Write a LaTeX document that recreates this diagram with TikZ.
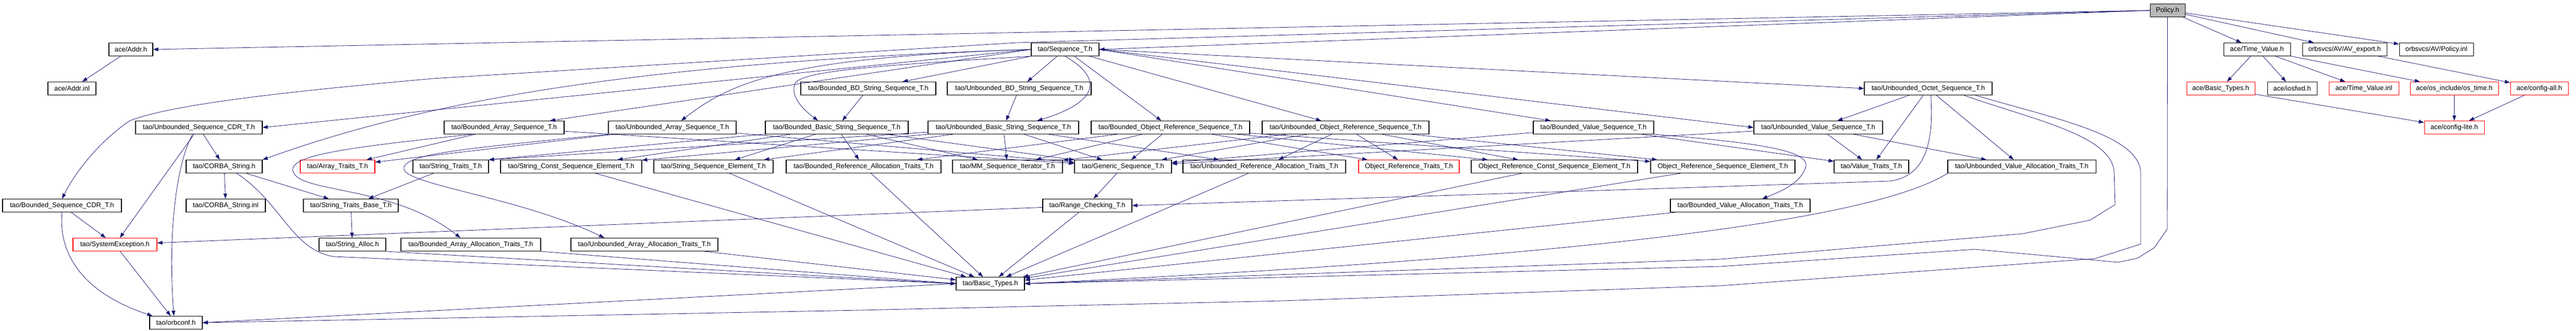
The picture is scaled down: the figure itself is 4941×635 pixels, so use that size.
\documentclass[tikz,border=0pt]{standalone}
\usepackage{fontspec}
\setmainfont{Liberation Sans}
\usetikzlibrary{arrows.meta}
\definecolor{edgeblue}{RGB}{25,25,112}
\begin{document}
\begin{tikzpicture}[x=1pt,y=-1pt,
  box/.style={draw=black, line width=1.1pt, fill=white, minimum height=25pt, inner sep=1pt, font=\fontsize{13}{15}\selectfont},
  redbox/.style={box, draw=red},
  dep/.style={draw=edgeblue, line width=0.8pt, -{Triangle[length=10pt,width=7pt]}}]
\useasboundingbox (0,0) rectangle (4941,635);

\node [box, minimum width=67pt, fill=gray!55] (policy) at (4157.5,20) {Policy.h};

\node [box, minimum width=84pt] (addr) at (251,95) {ace/Addr.h};
\node [box, minimum width=130pt] (seqt) at (2043,95) {tao/Sequence\_T.h};
\node [box, minimum width=128pt] (timev) at (4329,95) {ace/Time\_Value.h};
\node [box, minimum width=162pt] (avexp) at (4497,95) {orbsvcs/AV/AV\_export.h};
\node [box, minimum width=142pt] (polinl) at (4673,95) {orbsvcs/AV/Policy.inl};

\node [box, minimum width=92pt] (addrinl) at (138,170) {ace/Addr.inl};
\node [box, minimum width=259pt] (bbdstr) at (1665.5,170) {tao/Bounded\_BD\_String\_Sequence\_T.h};
\node [box, minimum width=276pt] (ubdstr) at (1955,170) {tao/Unbounded\_BD\_String\_Sequence\_T.h};
\node [box, minimum width=245pt] (octet) at (3698.5,170) {tao/Unbounded\_Octet\_Sequence\_T.h};
\node [redbox, minimum width=131pt] (acebt) at (4259.5,170) {ace/Basic\_Types.h};
\node [box, minimum width=95pt] (iosfwd) at (4396.5,170) {ace/iosfwd.h};
\node [redbox, minimum width=134pt] (tvinl) at (4534,170) {ace/Time\_Value.inl};
\node [redbox, minimum width=169pt] (ostime) at (4707.5,170) {ace/os\_include/os\_time.h};
\node [redbox, minimum width=111pt] (cfgall) at (4870.5,170) {ace/config-all.h};

\node [box, minimum width=243pt] (useqcdr) at (381.5,245) {tao/Unbounded\_Sequence\_CDR\_T.h};
\node [box, minimum width=230pt] (barrseq) at (967,245) {tao/Bounded\_Array\_Sequence\_T.h};
\node [box, minimum width=245pt] (uarrseq) at (1289.5,245) {tao/Unbounded\_Array\_Sequence\_T.h};
\node [box, minimum width=274pt] (bbstr) at (1605,245) {tao/Bounded\_Basic\_String\_Sequence\_T.h};
\node [box, minimum width=289pt] (ubstr) at (1924.5,245) {tao/Unbounded\_Basic\_String\_Sequence\_T.h};
\node [box, minimum width=304pt] (bobjref) at (2245,245) {tao/Bounded\_Object\_Reference\_Sequence\_T.h};
\node [box, minimum width=320pt] (uobjref) at (2581,245) {tao/Unbounded\_Object\_Reference\_Sequence\_T.h};
\node [box, minimum width=231pt] (bvalseq) at (3056.5,245) {tao/Bounded\_Value\_Sequence\_T.h};
\node [box, minimum width=247pt] (uvalseq) at (3487.5,245) {tao/Unbounded\_Value\_Sequence\_T.h};
\node [redbox, minimum width=115pt] (cfglite) at (4707.5,245) {ace/config-lite.h};

\node [box, minimum width=146pt] (corbastr) at (430,320) {tao/CORBA\_String.h};
\node [redbox, minimum width=143pt] (arrtr) at (647.5,320) {tao/Array\_Traits\_T.h};
\node [box, minimum width=145pt] (strtr) at (864.5,320) {tao/String\_Traits\_T.h};
\node [box, minimum width=271pt] (strcse) at (1095.5,320) {tao/String\_Const\_Sequence\_Element\_T.h};
\node [box, minimum width=229pt] (strse) at (1368.5,320) {tao/String\_Sequence\_Element\_T.h};
\node [box, minimum width=297pt] (brefalloc) at (1656.5,320) {tao/Bounded\_Reference\_Allocation\_Traits\_T.h};
\node [box, minimum width=211pt] (mmiter) at (1932.5,320) {tao/MM\_Sequence\_Iterator\_T.h};
\node [box, minimum width=186pt] (genseq) at (2154,320) {tao/Generic\_Sequence\_T.h};
\node [box, minimum width=312pt] (urefalloc) at (2425,320) {tao/Unbounded\_Reference\_Allocation\_Traits\_T.h};
\node [redbox, minimum width=193pt] (objreftr) at (2702.5,320) {Object\_Reference\_Traits\_T.h};
\node [box, minimum width=319pt] (orcse) at (2981.5,320) {Object\_Reference\_Const\_Sequence\_Element\_T.h};
\node [box, minimum width=277pt] (orse) at (3304.5,320) {Object\_Reference\_Sequence\_Element\_T.h};
\node [box, minimum width=143pt] (valtr) at (3589.5,320) {tao/Value\_Traits\_T.h};
\node [box, minimum width=284pt] (uvalalloc) at (3878,320) {tao/Unbounded\_Value\_Allocation\_Traits\_T.h};

\node [box, minimum width=228pt] (bseqcdr) at (119,395) {tao/Bounded\_Sequence\_CDR\_T.h};
\node [box, minimum width=152pt] (corbainl) at (433,395) {tao/CORBA\_String.inl};
\node [box, minimum width=182pt] (strbase) at (673,395) {tao/String\_Traits\_Base\_T.h};
\node [box, minimum width=171pt] (rangechk) at (2085.5,395) {tao/Range\_Checking\_T.h};
\node [box, minimum width=268pt] (bvalalloc) at (3338,395) {tao/Bounded\_Value\_Allocation\_Traits\_T.h};

\node [redbox, minimum width=161pt] (sysexc) at (220.5,470) {tao/SystemException.h};
\node [box, minimum width=128pt] (stralloc) at (676,470) {tao/String\_Alloc.h};
\node [box, minimum width=268pt] (barralloc) at (903,470) {tao/Bounded\_Array\_Allocation\_Traits\_T.h};
\node [box, minimum width=282pt] (uarralloc) at (1236,470) {tao/Unbounded\_Array\_Allocation\_Traits\_T.h};

\node [box, minimum width=131pt] (taobt) at (1899.5,545) {tao/Basic\_Types.h};
\node [box, minimum width=101pt] (orbconf) at (337.5,620) {tao/orbconf.h};

\draw [dep] (policy.west) -- (addr.east);
\draw [dep] (policy.west) -- (seqt.east);
\draw [dep] (policy.west) -- (1950,82) -- (830,151) .. controls (560,175) and (330,200) .. (249,232) .. controls (200,265) and (150,320) .. (bseqcdr.north);
\draw [dep] (policy) -- (timev);
\draw [dep] (policy) -- (avexp);
\draw [dep] (policy) -- (polinl);
\draw [dep] (policy.south) -- (4157,440) -- (4132,476) -- (4100,496) -- (4063,504) -- (3788,479) -- (3300,512) -- (taobt.east);

\draw [dep] (addr) -- (addrinl);
\draw [dep] (timev) -- (acebt);
\draw [dep] (timev) -- (iosfwd);
\draw [dep] (timev) -- (tvinl);
\draw [dep] (timev) -- (ostime);
\draw [dep] (avexp) -- (cfgall);
\draw [dep] (acebt) -- (cfglite);
\draw [dep] (ostime) -- (cfglite);
\draw [dep] (cfgall) -- (cfglite);

\draw [dep] (seqt.west) -- (useqcdr.east);
\draw [dep] (seqt.west) .. controls (1200,120) and (800,200) .. (corbastr.north east);
\draw [dep] (seqt.west) -- (barrseq);
\draw [dep] (seqt.west) .. controls (1500,110) and (1400,160) .. (uarrseq);
\draw [dep] (seqt.south west) .. controls (1700,125) and (1540,135) .. (1525,160) .. controls (1515,185) and (1540,210) .. ([xshift=-36pt]bbstr.north);
\draw [dep] (seqt) -- (bbdstr);
\draw [dep] (seqt) -- (ubdstr);
\draw [dep] (seqt.south) .. controls (2115,150) and (2110,195) .. ([xshift=65pt]ubstr.north);
\draw [dep] (seqt) -- (bobjref);
\draw [dep] (seqt) -- (uobjref);
\draw [dep] (seqt.east) -- (bvalseq);
\draw [dep] (seqt.east) -- (uvalseq.west);
\draw [dep] (seqt.east) -- (octet.west);

\draw [dep] (bbdstr) -- (bbstr);
\draw [dep] (ubdstr) -- (ubstr);

\draw [dep] (useqcdr) -- (corbastr);
\draw [dep] (useqcdr) -- (sysexc);
\draw [dep] ([xshift=-12pt]useqcdr.south) .. controls (345,300) and (320,420) .. ([xshift=-4pt]orbconf.north);
\draw [dep] (bseqcdr) -- (sysexc);
\draw [dep] (bseqcdr.south) .. controls (112,480) and (150,560) .. ([xshift=-45pt]orbconf.north);
\draw [dep] (sysexc) -- (orbconf);

\draw [dep] (corbastr) -- (corbainl);
\draw [dep] (corbastr) -- (strbase);
\draw [dep] ([xshift=24pt]corbastr.south) .. controls (540,390) and (560,480) .. (640,493) -- (taobt.west);
\draw [dep] (strtr) -- (strbase);
\draw [dep] (strbase) -- (stralloc);
\draw [dep] (stralloc.south east) -- (taobt.west);

\draw [dep] (barrseq) -- (arrtr);
\draw [dep] (barrseq) -- (genseq);
\draw [dep] ([xshift=-62pt]barrseq.south) .. controls (650,285) and (540,300) .. (565,335) .. controls (590,370) and (760,360) .. ([xshift=-20pt]barralloc.north);
\draw [dep] (uarrseq) -- (arrtr);
\draw [dep] (uarrseq) -- (genseq);
\draw [dep] (uarrseq.south west) .. controls (900,285) and (770,295) .. (775,325) .. controls (780,355) and (1000,380) .. ([xshift=-77pt]uarralloc.north);

\draw [dep] (bbstr) -- (strtr.north east);
\draw [dep] (bbstr) -- (strcse);
\draw [dep] (bbstr) -- (strse);
\draw [dep] (bbstr) -- (brefalloc);
\draw [dep] (bbstr) -- (mmiter);
\draw [dep] (bbstr) -- (genseq);
\draw [dep] (ubstr) -- (strtr.north east);
\draw [dep] (ubstr) -- (strcse);
\draw [dep] (ubstr) -- (strse);
\draw [dep] (ubstr) -- (urefalloc);
\draw [dep] (ubstr) -- (mmiter);
\draw [dep] (ubstr) -- (genseq);

\draw [dep] (bobjref) -- (brefalloc);
\draw [dep] (bobjref) -- (objreftr);
\draw [dep] (bobjref) -- (orcse);
\draw [dep] (bobjref) -- (orse);
\draw [dep] (bobjref) -- (mmiter);
\draw [dep] (bobjref) -- (genseq);
\draw [dep] (uobjref) -- (urefalloc);
\draw [dep] (uobjref) -- (objreftr);
\draw [dep] (uobjref) -- (orcse);
\draw [dep] (uobjref) -- (orse);
\draw [dep] (uobjref) -- (mmiter);
\draw [dep] (uobjref) -- (genseq);

\draw [dep] (bvalseq.south east) .. controls (3380,275) and (3480,290) .. (3462,325) .. controls (3450,355) and (3410,370) .. ([xshift=42pt]bvalalloc.north);
\draw [dep] (bvalseq) -- (valtr);
\draw [dep] (bvalseq) -- (genseq);
\draw [dep] (uvalseq) -- (uvalalloc);
\draw [dep] (uvalseq) -- (valtr);
\draw [dep] (uvalseq) -- (genseq);

\draw [dep] (octet) -- (uvalseq);
\draw [dep] (octet) -- (valtr);
\draw [dep] (octet) -- (uvalalloc);
\draw [dep] ([xshift=5pt]octet.south) .. controls (3710,280) and (3690,340) .. (3624,348) -- (rangechk.east);
\draw [dep] ([xshift=-55pt]octet.south east) .. controls (3900,230) and (4050,260) .. (4055,330) -- (4057,393) -- (4009,423) -- (3880,449) -- (3300,498) -- (taobt.east);
\draw [dep] ([xshift=-33pt]octet.south east) .. controls (3950,230) and (4100,260) .. (4106,330) -- (4106,469) -- (4018,497) -- (3300,549) -- (2460,578) -- (1650,596) -- (orbconf.east);

\draw [dep] (genseq) -- (rangechk);
\draw [dep] (rangechk) -- (sysexc);
\draw [dep] (rangechk) -- (taobt);

\draw [dep] (barralloc.south east) -- (taobt.west);
\draw [dep] (uarralloc) -- (taobt);
\draw [dep] (strcse) -- (taobt);
\draw [dep] (strse) -- (taobt);
\draw [dep] (brefalloc) -- (taobt);
\draw [dep] (urefalloc) -- (taobt);
\draw [dep] (orcse) -- (taobt);
\draw [dep] (orse) -- (taobt);
\draw [dep] (bvalalloc) -- (taobt);
\draw [dep] (uvalalloc.south west) .. controls (3550,450) and (2700,510) .. (taobt.east);
\draw [dep] (taobt.west) -- (orbconf.east);
\end{tikzpicture}
\end{document}
